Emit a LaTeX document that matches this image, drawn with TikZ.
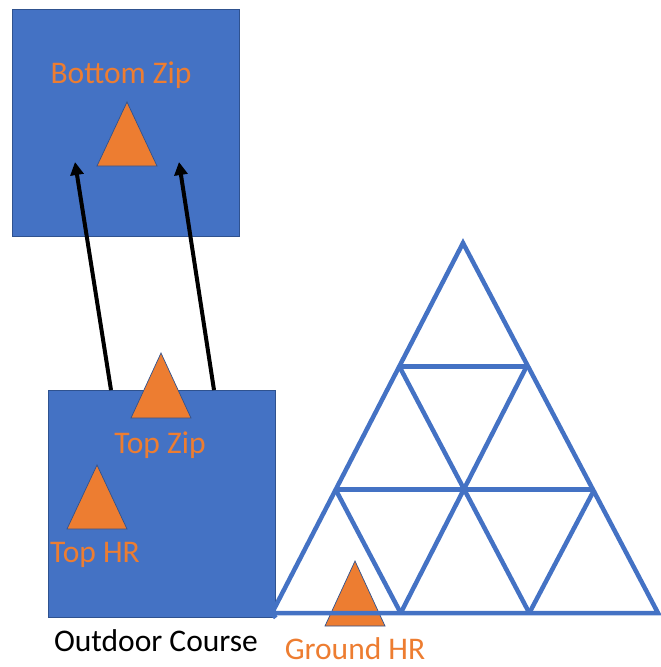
\documentclass[tikz,border=0pt]{standalone}
\usepackage{fontspec}
\setmainfont{Carlito}
\usetikzlibrary{arrows.meta}
\definecolor{boxblue}{HTML}{4472C4}
\definecolor{edgeblue}{HTML}{2F528F}
\definecolor{conorange}{HTML}{ED7D31}
\tikzset{
  area/.style={draw=edgeblue, line width=0.8pt, fill=boxblue, minimum width=227pt, minimum height=227pt, inner sep=0pt, anchor=north west},
  cone/.style={fill=conorange, draw=edgeblue, line width=0.7pt, line join=miter},
  lbl/.style={text=conorange, font=\fontsize{31.5}{36}\selectfont, inner sep=0pt, anchor=base},
  title/.style={text=black, font=\fontsize{31.5}{36}\selectfont, inner sep=0pt, anchor=base},
  zipline/.style={line width=4pt, -{Triangle[length=13pt,width=13pt]}},
  grid/.style={draw=boxblue, line width=4.5pt, line join=miter, line cap=butt}
}
\begin{document}
\begin{tikzpicture}[x=1pt,y=-1pt]
\useasboundingbox (0,0) rectangle (661,667);

% boxes
\node[area] (topbox) at (12,9) {};
\node[area] (lowbox) at (48,390) {};

% arrows from the lower box up into the upper box
\coordinate (t1) at (75,162);
\coordinate (t2) at (179,162);
\coordinate (s1) at (111,390);
\coordinate (s2) at (214,390);
\draw[zipline] (s1) -- (t1);
\draw[zipline] (s2) -- (t2);

% cones
\draw[cone] (127,102) -- (157,166) -- (97,166) -- cycle;
\draw[cone] (161,353) -- (191,418) -- (131,418) -- cycle;
\draw[cone] (97,465) -- (127,529) -- (67,529) -- cycle;
\draw[cone] (355,561) -- (385,626) -- (325,626) -- cycle;

% big triangle grid
\coordinate (A) at (463,243);
\coordinate (L) at (272,613);
\coordinate (R) at (658,613);
\coordinate (m1l) at (399.3,366.3);
\coordinate (m1r) at (526.7,366.3);
\coordinate (m2l) at (335.7,489.7);
\coordinate (m2r) at (594.3,489.7);
\coordinate (b1) at (400.7,613);
\coordinate (b2) at (529.3,613);
\draw[grid] (A) -- (R) -- (L) -- cycle;
\draw[grid] (m1l) -- (m1r);
\draw[grid] (m2l) -- (m2r);
\draw[grid] (m1l) -- (b2);
\draw[grid] (m1r) -- (b1);
\draw[grid] (m2l) -- (b1);
\draw[grid] (m2r) -- (b2);
\draw[grid] (L) -- (lowbox.south east);

% labels
\node[lbl] (lbz) at (121,83) {Bottom Zip};
\node[lbl] (ltz) at (160,453) {Top Zip};
\node[lbl] (lthr) at (95,562) {Top HR};
\node[lbl, text depth=0pt] (lghr) at (355,659) {Ground HR};
\node[title] (loc) at (156,651) {Outdoor Course};
\end{tikzpicture}
\end{document}
